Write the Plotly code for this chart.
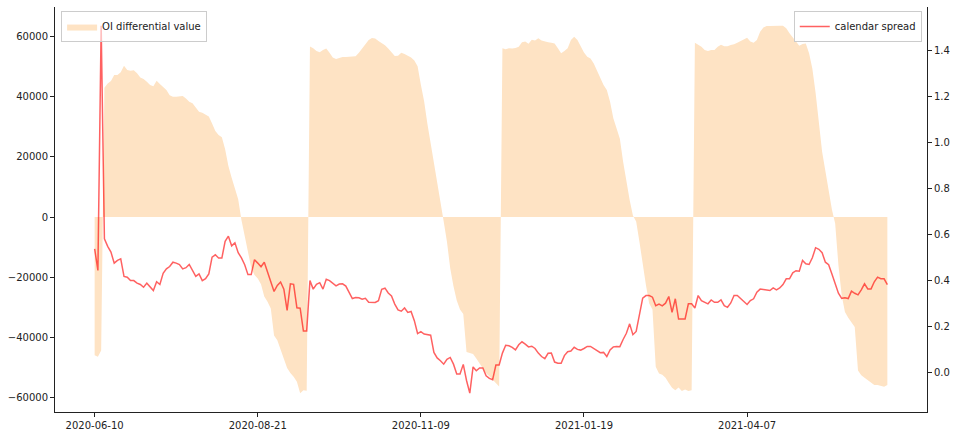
import pandas as pd
import plotly.graph_objects as go

# ---- categories: trading days (Chinese exchange calendar) ----
START_DATE = "2020-06-10"
END_DATE = "2021-06-10"
HOLIDAYS = ["2020-06-25", "2020-06-26", "2020-10-01", "2020-10-02", "2020-10-05",
            "2020-10-06", "2020-10-07", "2020-10-08", "2021-01-01", "2021-02-11",
            "2021-02-12", "2021-02-15", "2021-02-16", "2021-02-17", "2021-04-05",
            "2021-05-03", "2021-05-04", "2021-05-05"]
dates = [d.strftime("%Y-%m-%d") for d in pd.bdate_range(START_DATE, END_DATE)
         if d.strftime("%Y-%m-%d") not in HOLIDAYS]

TICK_LABELS = ["2020-06-10", "2020-08-21", "2020-11-09", "2021-01-19", "2021-04-07"]

# ---- series: OI differential value (left axis) ----
oi_diff = [
    -45900, -46400, -44300, 43000, 44400, 45200, 47200, 47200, 48100, 50300,
    48900, 48600, 48800, 47800, 46400, 45900, 45000, 43900, 43500, 45300,
    44200, 43300, 42200, 40500, 40000, 40000, 40200, 40200, 39400, 38300,
    37800, 36500, 35000, 34700, 34100, 33400, 31100, 28600, 27300, 26500,
    22500, 17000, 13100, 9200, 5900, -1000, -6500, -12200, -16800, -19200,
    -20400, -22300, -26400, -28100, -30400, -39300, -40900, -44000, -47300, -50100,
    -51800, -53000, -54700, -58500, -57500, -57700, 56700, 56100, 55200, 54800,
    55500, 56000, 54600, 53000, 52500, 52800, 53200, 53200, 53300, 53300,
    53400, 54600, 56100, 57500, 58800, 59500, 59300, 58500, 57900, 57100,
    56000, 54700, 53500, 53600, 54600, 54200, 53700, 53000, 52000, 50100,
    44000, 38500, 31000, 24700, 18500, 11000, 5000, -1500, -8200, -17000,
    -23000, -27700, -30700, -32200, -44800, -45200, -45500, -47000, -48600, -50200,
    -51900, -52900, -54000, -55100, -56300, 56100, 55800, 56100, 56000, 56200,
    56600, 58100, 58300, 57600, 58900, 58700, 59400, 58700, 58300, 58100,
    57900, 57700, 56100, 54400, 55200, 56100, 58800, 59900, 58800, 56600,
    54700, 53300, 52700, 51000, 48500, 46600, 43900, 42200, 38300, 32800,
    29300, 26000, 18400, 11700, 5700, 500, -1500, -8200, -16000, -22600,
    -28700, -30700, -49700, -52000, -52400, -53400, -55100, -56700, -57500, -56600,
    -57800, -57300, -57800, -57500, 57900, 57200, 56600, 55500, 55200, 55500,
    55500, 56600, 57300, 56800, 56800, 57200, 57400, 57900, 58500, 59200,
    59600, 58300, 57900, 58800, 61600, 63000, 63500, 63500, 63600, 63700,
    63600, 63600, 62700, 61100, 59700, 58100, 56900, 57500, 57700, 54400,
    49400, 41300, 32000, 21700, 15300, 8700, 2500, -2100, -16000, -26000,
    -31500, -33400, -35000, -36500, -51000, -52500, -53400, -54200, -55300, -55800,
    -55800, -56100, -56400, -55800,
]

# ---- series: calendar spread (right axis) ----
calendar_spread = [
    0.537, 0.443, 1.506, 0.581, 0.548, 0.523, 0.475, 0.487, 0.494, 0.417,
    0.414, 0.399, 0.399, 0.388, 0.382, 0.370, 0.388, 0.373, 0.356, 0.394,
    0.382, 0.431, 0.450, 0.460, 0.479, 0.475, 0.469, 0.450, 0.455, 0.469,
    0.443, 0.417, 0.428, 0.399, 0.407, 0.428, 0.501, 0.511, 0.497, 0.497,
    0.570, 0.592, 0.550, 0.563, 0.520, 0.498, 0.468, 0.425, 0.425, 0.490,
    0.475, 0.459, 0.479, 0.436, 0.393, 0.352, 0.378, 0.393, 0.362, 0.270,
    0.385, 0.383, 0.281, 0.279, 0.180, 0.180, 0.399, 0.362, 0.383, 0.390,
    0.362, 0.405, 0.399, 0.386, 0.376, 0.384, 0.385, 0.375, 0.350, 0.321,
    0.325, 0.324, 0.318, 0.322, 0.305, 0.304, 0.304, 0.312, 0.361, 0.366,
    0.345, 0.332, 0.297, 0.272, 0.266, 0.280, 0.261, 0.265, 0.225, 0.169,
    0.177, 0.167, 0.164, 0.162, 0.087, 0.063, 0.051, 0.036, 0.057, 0.065,
    0.036, -0.007, -0.007, 0.035, -0.035, -0.090, 0.024, 0.007, 0.019, 0.019,
    -0.015, -0.026, -0.032, 0.032, 0.032, 0.084, 0.118, 0.116, 0.109, 0.098,
    0.120, 0.133, 0.123, 0.111, 0.114, 0.104, 0.084, 0.069, 0.060, 0.083,
    0.084, 0.045, 0.040, 0.040, 0.073, 0.090, 0.093, 0.109, 0.100, 0.097,
    0.104, 0.113, 0.113, 0.103, 0.093, 0.086, 0.087, 0.069, 0.098, 0.111,
    0.113, 0.112, 0.143, 0.170, 0.211, 0.164, 0.178, 0.246, 0.323, 0.334,
    0.334, 0.327, 0.290, 0.297, 0.289, 0.301, 0.330, 0.261, 0.320, 0.232,
    0.232, 0.232, 0.298, 0.298, 0.280, 0.334, 0.312, 0.305, 0.298, 0.315,
    0.305, 0.305, 0.315, 0.290, 0.283, 0.302, 0.334, 0.334, 0.320, 0.305,
    0.295, 0.312, 0.320, 0.349, 0.362, 0.360, 0.357, 0.356, 0.367, 0.359,
    0.367, 0.382, 0.407, 0.407, 0.433, 0.442, 0.440, 0.487, 0.472, 0.469,
    0.498, 0.542, 0.535, 0.520, 0.479, 0.468, 0.428, 0.382, 0.344, 0.322,
    0.324, 0.321, 0.353, 0.344, 0.337, 0.359, 0.385, 0.363, 0.363, 0.394,
    0.414, 0.407, 0.407, 0.382,
]

n = min(len(dates), len(oi_diff), len(calendar_spread))
dates = dates[:n]
oi_diff = oi_diff[:n]
calendar_spread = calendar_spread[:n]

FONT = dict(family="DejaVu Sans", size=10, color="#222222")
AXIS_COLOR = "#222222"

fig = go.Figure()
fig.add_trace(go.Scatter(
    x=dates, y=oi_diff, name="OI differential value",
    mode="lines", fill="tozeroy",
    line=dict(width=0, color="rgba(254,227,196,1)"),
    fillcolor="rgb(254,227,196)",
    yaxis="y", legend="legend",
))
fig.add_trace(go.Scatter(
    x=dates, y=calendar_spread, name="calendar spread",
    mode="lines",
    line=dict(width=1.5, color="rgba(255,0,0,0.62)"),
    yaxis="y2", legend="legend2",
))

fig.update_layout(
    width=954, height=434,
    margin=dict(l=55, r=27, t=7, b=22, autoexpand=False),
    paper_bgcolor="white", plot_bgcolor="white",
    font=FONT,
    xaxis=dict(
        type="category", range=[-12.15, n - 1 + 12.15],
        tickmode="array", tickvals=TICK_LABELS, ticktext=TICK_LABELS,
        showline=True, linecolor=AXIS_COLOR, linewidth=1,
        ticks="outside", ticklen=4, tickwidth=1, tickcolor=AXIS_COLOR,
        showgrid=False, zeroline=False,
    ),
    yaxis=dict(
        range=[-64750, 69800],
        tickmode="array", tickvals=[-60000, -40000, -20000, 0, 20000, 40000, 60000],
        tickformat="d",
        showline=True, linecolor=AXIS_COLOR, linewidth=1,
        ticks="outside", ticklen=4, tickwidth=1, tickcolor=AXIS_COLOR,
        showgrid=False, zeroline=False,
    ),
    yaxis2=dict(
        overlaying="y", side="right", anchor="x",
        range=[-0.172, 1.588],
        tickmode="array", tickvals=[0.0, 0.2, 0.4, 0.6, 0.8, 1.0, 1.2, 1.4],
        tickformat=".1f",
        showline=True, linecolor=AXIS_COLOR, linewidth=1,
        ticks="outside", ticklen=4, tickwidth=1, tickcolor=AXIS_COLOR,
        showgrid=False, zeroline=False,
    ),
    legend=dict(
        x=0.007, y=0.99, xanchor="left", yanchor="top",
        bgcolor="rgba(255,255,255,0.6)", bordercolor="#cccccc", borderwidth=1,
        font=FONT, itemwidth=30,
    ),
    legend2=dict(
        x=0.994, y=0.99, xanchor="right", yanchor="top",
        bgcolor="rgba(255,255,255,0.8)", bordercolor="#cccccc", borderwidth=1,
        font=FONT, itemwidth=30,
    ),
    showlegend=True,
)

fig.write_html(
    "out.html",
    config={"displayModeBar": False},
    post_script="document.body.style.margin='0px';document.body.style.padding='0px';"
                "document.body.style.overflow='hidden';",
)
